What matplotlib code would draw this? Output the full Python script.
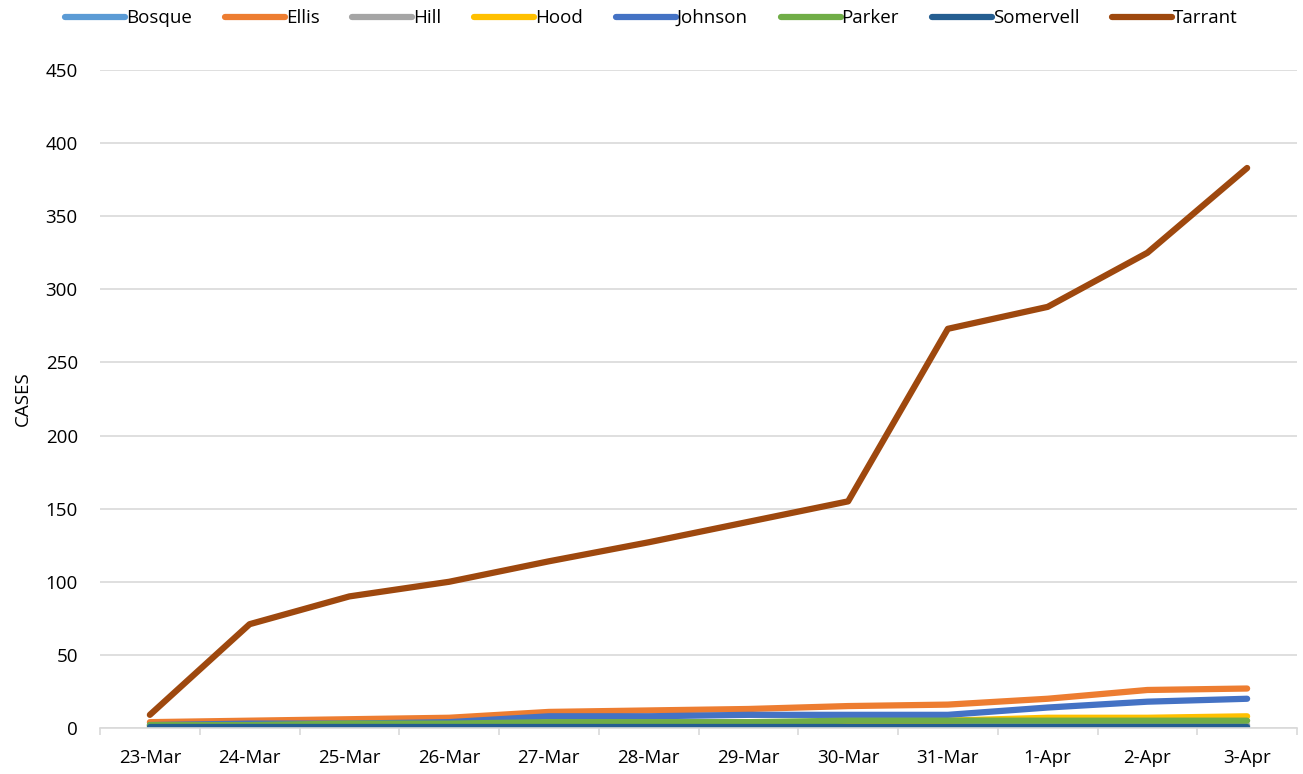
import matplotlib
matplotlib.use("Agg")
import matplotlib.pyplot as plt
from matplotlib.lines import Line2D

dates = ["23-Mar", "24-Mar", "25-Mar", "26-Mar", "27-Mar", "28-Mar",
         "29-Mar", "30-Mar", "31-Mar", "1-Apr", "2-Apr", "3-Apr"]
bosque = [0, 0, 0, 0, 0, 0, 0, 0, 1, 1, 1, 1]
ellis = [4, 5, 6, 7, 11, 12, 13, 15, 16, 20, 26, 27]
hill = [0, 0, 0, 0, 1, 1, 1, 1, 1, 1, 2, 2]
hood = [1, 1, 1, 2, 3, 3, 4, 4, 5, 7, 7, 8]
johnson = [2, 3, 3, 4, 8, 8, 9, 9, 9, 14, 18, 20]
parker = [2, 2, 3, 3, 4, 4, 4, 5, 5, 5, 5, 5]
somervell = [1, 1, 1, 1, 1, 1, 1, 1, 1, 1, 1, 1]
tarrant = [9, 71, 90, 100, 114, 127, 141, 155, 273, 288, 325, 383]

names = ["Bosque", "Ellis", "Hill", "Hood", "Johnson", "Parker", "Somervell", "Tarrant"]
series = [bosque, ellis, hill, hood, johnson, parker, somervell, tarrant]
colors = ["#5B9BD5", "#ED7D31", "#A5A5A5", "#FFC000", "#4472C4", "#70AD47", "#255E91", "#9E480E"]

plt.rcParams['font.family'] = ['Open Sans', 'DejaVu Sans']

fig = plt.figure(figsize=(13.03, 7.74), dpi=100)
ax = fig.add_axes([100/1303, 46/774, 1197/1303, 658/774])

x = list(range(len(dates)))
for name, vals, c in zip(names, series, colors):
    ax.plot(x, vals, color=c, lw=4.5, solid_capstyle='round', solid_joinstyle='round', label=name)

ax.set_xlim(-0.5, len(dates) - 0.5)
ax.set_ylim(0, 450)
ax.set_yticks(range(0, 451, 50))
ax.set_xticks(x)
ax.set_xticklabels(dates)
ax.set_xticks([i - 0.5 for i in range(len(dates) + 1)], minor=True)
ax.tick_params(axis='x', which='major', length=0, labelsize=13.5, pad=15)
ax.tick_params(axis='x', which='minor', length=5, color='#D9D9D9', width=1.2)
ax.tick_params(axis='y', length=0, labelsize=13.5, pad=16)
ax.grid(axis='y', color='#D9D9D9', lw=1.2)
ax.set_axisbelow(True)
for s in ['top', 'right', 'left']:
    ax.spines[s].set_visible(False)
ax.spines['bottom'].set_color('#D9D9D9')
ax.spines['bottom'].set_linewidth(1.2)
ax.set_ylabel("CASES", fontsize=13.5, labelpad=10)

handles = [Line2D([0], [0], color=c, lw=4.5, solid_capstyle='round') for c in colors]
fig.legend(handles, names, loc='upper center', bbox_to_anchor=(0.5, 1.01), ncol=8,
           frameon=False, fontsize=13.5, handlelength=3.2, handletextpad=0.05,
           columnspacing=1.75)

fig.savefig("out.png", dpi=100)
